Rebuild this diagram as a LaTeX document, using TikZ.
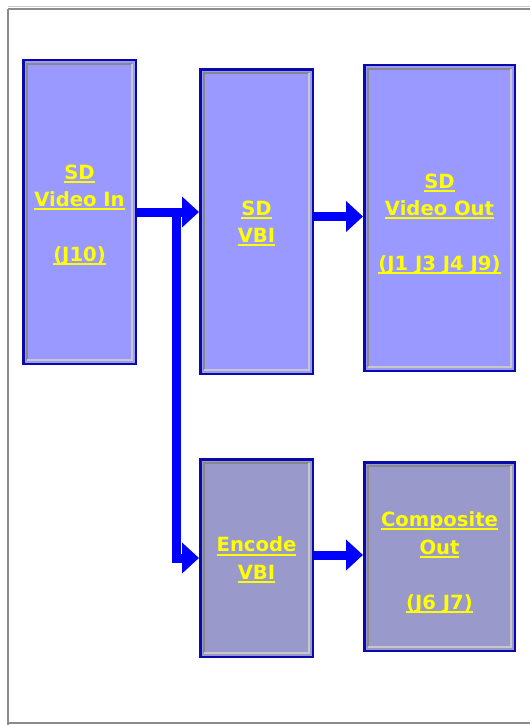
\documentclass[tikz,border=0pt]{standalone}
\usepackage{fontspec}
\setmainfont{DejaVu Sans}
\usetikzlibrary{arrows.meta,calc}
\definecolor{topfill}{RGB}{153,153,255}
\definecolor{botfill}{RGB}{153,153,204}
\definecolor{boxedge}{RGB}{10,10,170}
\definecolor{linkblue}{RGB}{0,0,255}
\definecolor{txtyellow}{RGB}{255,255,0}
\definecolor{bevdk}{RGB}{136,136,136}
\definecolor{bevlt}{RGB}{200,200,200}
\definecolor{framedk}{RGB}{140,140,140}
\definecolor{framelt}{RGB}{200,200,200}
\newcommand\ulk[1]{\sbox0{#1}\leavevmode\rlap{\rule[-3.6pt]{\wd0}{1.9pt}}\usebox0}
\tikzset{
  blk/.style={draw=boxedge, line width=2.5pt, inner sep=0pt},
  topblk/.style={blk, fill=topfill},
  botblk/.style={blk, fill=botfill},
  txt/.style={inner sep=0pt, align=center, text=txtyellow,
    font=\fontsize{19.6}{27.5}\selectfont\bfseries},
  conn/.style={draw=linkblue, line width=9pt, -{Triangle[length=17pt,width=30pt]}},
  bevdark/.style={draw=bevdk, line width=2.2pt},
  bevlight/.style={draw=bevlt, line width=2.2pt},
}
\begin{document}
\begin{tikzpicture}[x=1pt,y=1pt]
\useasboundingbox (0,0) rectangle (530,-725);
% frame
\draw[framelt, line width=1.2pt] (8,-6.6) -- (530,-6.6);
\draw[framedk, line width=2pt] (8,-8.6) -- (530,-8.6);
\draw[framedk, line width=2pt] (8,-9) -- (8,-725);
\draw[framedk, line width=2pt] (9,-723) -- (530,-723);
% blocks
\node[topblk, minimum width=112.5pt, minimum height=303.5pt] (b1) at (79.5,-212) {};
\node[topblk, minimum width=112.5pt, minimum height=304.5pt] (b2) at (256.5,-221.5) {};
\node[topblk, minimum width=150.5pt, minimum height=305.5pt] (b3) at (439.5,-218) {};
\node[botblk, minimum width=112.5pt, minimum height=197.5pt] (b4) at (256.5,-558) {};
\node[botblk, minimum width=150.5pt, minimum height=188.5pt] (b5) at (439.5,-556.5) {};
% bevels
\foreach \n in {b1,b2,b3,b4,b5}{
  \draw[bevdark] ([shift={(5,5)}]\n.south west) |- ([shift={(-5,-5)}]\n.north east);
  \draw[bevlight] ([shift={(5,5)}]\n.south west) -| ([shift={(-5,-5)}]\n.north east);
}
% texts
\node[txt] (t1) at ([yshift=-3pt]b1.center) {\ulk{SD}\\\ulk{Video In}\\[27.5pt]\ulk{(J10)}};
\node[txt] (t2) at ([yshift=-2pt]b2.center) {\ulk{SD}\\\ulk{VBI}};
\node[txt] (t3) at ([yshift=-6pt]b3.center) {\ulk{SD}\\\ulk{Video Out}\\[27.5pt]\ulk{(J1 J3 J4 J9)}};
\node[txt] (t4) at ([yshift=-2pt]b4.center) {\ulk{Encode}\\\ulk{VBI}};
\node[txt] (t5) at ([yshift=-6pt]b5.center) {\ulk{Composite}\\\ulk{Out}\\[27.5pt]\ulk{(J6 J7)}};
% connectors
\coordinate (j) at ($(b1.east)+(39,0)$);
\draw[conn] (b1.east) -- (b1.east -| b2.west);
\draw[conn] (j) |- (b4.west);
\draw[conn] ([yshift=5pt]b2.east) -- ([yshift=5pt]b2.east -| b3.west);
\draw[conn] ([yshift=3pt]b4.east) -- ([yshift=3pt]b4.east -| b5.west);
\end{tikzpicture}
\end{document}
